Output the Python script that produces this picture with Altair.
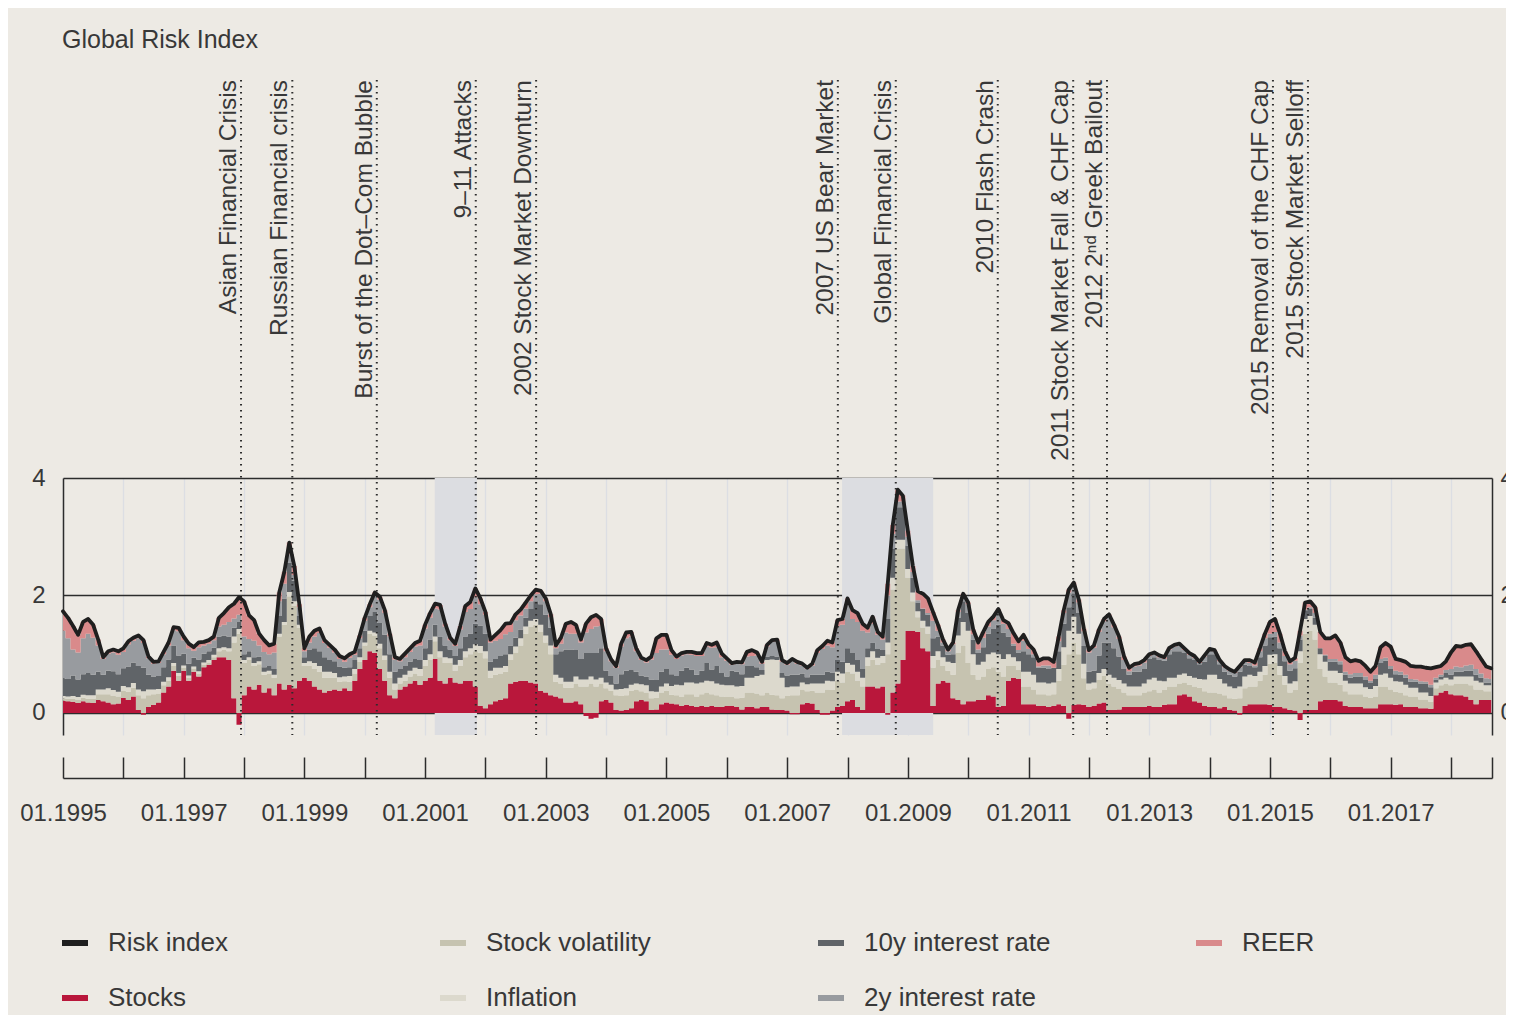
import altair as alt
import pandas as pd

# ---------------- data (monthly, Jan 1995 - Sep 2018) ----------------
start_year = 1995

risk_index = [
    1.73,1.62,1.48,1.33,1.55,1.60,1.50,1.25,0.95,1.05,1.08,1.05,
    1.10,1.22,1.28,1.32,1.24,0.96,0.87,0.88,1.04,1.20,1.46,1.45,
    1.30,1.18,1.12,1.20,1.21,1.24,1.30,1.62,1.70,1.80,1.86,1.97,
    1.90,1.66,1.58,1.35,1.24,1.15,1.18,2.05,2.40,2.90,2.50,1.85,
    1.10,1.30,1.40,1.44,1.24,1.16,1.08,0.97,0.93,1.00,1.04,1.32,
    1.62,1.85,2.05,1.98,1.75,1.35,0.95,0.92,1.01,1.10,1.19,1.23,
    1.50,1.70,1.86,1.84,1.52,1.28,1.18,1.48,1.82,1.89,2.12,1.95,
    1.72,1.25,1.33,1.41,1.52,1.53,1.68,1.76,1.88,2.00,2.10,2.08,
    1.95,1.68,1.15,1.28,1.52,1.55,1.50,1.25,1.52,1.63,1.67,1.60,
    1.10,0.91,0.80,1.18,1.37,1.38,1.10,0.94,0.90,0.96,1.27,1.33,
    1.33,1.07,0.96,1.02,1.04,1.04,1.02,1.02,1.19,1.16,1.20,1.01,
    0.93,0.85,0.87,0.86,1.04,1.07,1.03,0.87,1.16,1.24,1.25,0.90,
    0.85,0.92,0.87,0.84,0.77,0.84,1.07,1.14,1.23,1.20,1.58,1.60,
    1.95,1.75,1.70,1.52,1.45,1.64,1.38,1.30,2.20,3.20,3.80,3.70,
    3.10,2.50,2.07,2.03,1.95,1.72,1.50,1.25,1.08,1.20,1.75,2.03,
    1.88,1.42,1.20,1.38,1.55,1.64,1.77,1.58,1.53,1.36,1.22,1.33,
    1.17,1.08,0.89,0.93,0.93,0.87,1.30,1.75,2.10,2.22,1.93,1.44,
    1.07,1.15,1.42,1.60,1.68,1.50,1.30,0.96,0.77,0.83,0.85,0.90,
    1.00,1.03,0.98,0.95,1.11,1.16,1.18,1.10,1.02,0.97,0.87,0.98,
    1.09,1.07,0.90,0.80,0.74,0.70,0.80,0.90,0.90,0.86,1.10,1.35,
    1.55,1.60,1.35,1.05,0.88,0.94,1.40,1.88,1.90,1.80,1.38,1.27,
    1.27,1.32,1.20,0.95,0.88,0.90,0.88,0.80,0.70,0.80,1.12,1.19,
    1.13,0.92,0.90,0.87,0.80,0.79,0.79,0.77,0.76,0.78,0.80,0.88,
    1.03,1.14,1.13,1.16,1.17,1.05,0.92,0.79,0.76,
]

stocks = [
    0.21,0.20,0.19,0.17,0.20,0.18,0.17,0.22,0.20,0.18,0.15,0.16,
    0.26,0.22,0.28,0.05,-0.03,0.10,0.14,0.18,0.35,0.45,0.72,0.55,
    0.72,0.55,0.70,0.62,0.78,0.82,0.90,0.95,0.95,0.90,0.25,-0.20,
    0.30,0.45,0.40,0.48,0.35,0.42,0.30,0.50,0.40,0.48,0.42,0.55,
    0.60,0.55,0.45,0.40,0.35,0.38,0.40,0.38,0.42,0.38,0.55,0.75,
    0.90,1.05,1.02,0.75,0.55,0.30,0.25,0.40,0.45,0.50,0.55,0.48,
    0.55,0.60,0.92,0.55,0.50,0.60,0.52,0.50,0.55,0.55,0.45,0.12,
    0.08,0.15,0.20,0.22,0.25,0.50,0.53,0.55,0.55,0.52,0.50,0.38,
    0.35,0.30,0.28,0.25,0.18,0.18,0.20,0.15,-0.05,-0.10,-0.08,0.20,
    0.22,0.18,0.05,0.04,0.05,0.08,0.20,0.22,0.20,0.05,0.06,0.15,
    0.18,0.16,0.15,0.12,0.14,0.12,0.10,0.12,0.10,0.12,0.10,0.10,
    0.12,0.12,0.10,0.06,0.10,0.10,0.08,0.10,0.10,0.06,0.05,0.05,
    0.04,-0.02,-0.02,0.15,0.17,0.16,0.05,-0.03,-0.03,0.04,0.10,0.12,
    0.20,0.22,0.10,0.05,0.45,0.45,0.42,0.45,-0.03,0.35,0.50,0.90,
    1.40,1.40,1.38,1.10,1.05,0.12,0.50,0.55,0.52,0.25,0.22,0.15,
    0.20,0.20,0.22,0.22,0.30,0.28,0.10,0.12,0.55,0.60,0.58,0.15,
    0.15,0.15,0.12,0.12,0.10,0.12,0.15,0.12,-0.10,0.14,0.15,0.14,
    0.10,0.12,0.16,0.18,0.05,0.05,0.06,0.10,0.10,0.10,0.10,0.10,
    0.12,0.10,0.10,0.14,0.15,0.15,0.30,0.32,0.28,0.20,0.18,0.12,
    0.10,0.10,0.08,0.10,0.05,0.04,-0.03,0.12,0.15,0.15,0.15,0.15,
    0.14,0.10,0.10,0.08,0.05,0.04,-0.12,0.05,0.05,0.05,0.20,0.22,
    0.22,0.22,0.20,0.12,0.10,0.10,0.10,0.08,0.08,0.08,0.15,0.15,
    0.15,0.14,0.15,0.10,0.10,0.10,0.08,0.08,0.07,0.30,0.35,0.38,
    0.32,0.30,0.30,0.28,0.22,0.15,0.22,0.22,0.22,
]

stock_volatility = [
    0.04,0.04,0.05,0.05,0.06,0.06,0.07,0.10,0.12,0.14,0.14,0.12,
    0.12,0.14,0.15,0.25,0.25,0.20,0.18,0.15,0.12,0.10,0.08,0.08,
    0.05,0.05,0.05,0.05,0.04,0.04,0.05,0.10,0.12,0.15,0.95,1.35,
    0.55,0.45,0.40,0.35,0.30,0.25,0.30,0.80,1.10,1.50,1.40,0.90,
    0.20,0.25,0.30,0.30,0.25,0.22,0.20,0.15,0.12,0.15,0.12,0.12,
    0.25,0.30,0.30,0.35,0.35,0.30,0.15,0.10,0.10,0.12,0.12,0.15,
    0.25,0.30,0.30,0.40,0.35,0.25,0.20,0.30,0.40,0.45,0.60,0.90,
    0.85,0.45,0.45,0.45,0.45,0.40,0.50,0.60,0.80,0.95,1.00,1.00,
    0.85,0.70,0.25,0.25,0.25,0.25,0.30,0.30,0.45,0.50,0.45,0.30,
    0.20,0.20,0.25,0.25,0.25,0.30,0.20,0.15,0.15,0.20,0.20,0.20,
    0.20,0.15,0.15,0.15,0.18,0.20,0.18,0.20,0.25,0.20,0.20,0.18,
    0.15,0.15,0.15,0.20,0.25,0.25,0.25,0.20,0.25,0.25,0.25,0.20,
    0.25,0.30,0.30,0.25,0.20,0.22,0.30,0.35,0.40,0.35,0.45,0.40,
    0.50,0.45,0.45,0.40,0.35,0.45,0.40,0.40,1.00,1.75,2.30,1.90,
    0.90,0.50,0.25,0.35,0.30,0.65,0.40,0.25,0.20,0.40,0.80,1.00,
    0.65,0.45,0.35,0.40,0.45,0.50,0.60,0.50,0.25,0.20,0.15,0.30,
    0.30,0.25,0.20,0.20,0.20,0.20,0.40,0.70,1.00,1.05,0.85,0.45,
    0.30,0.30,0.40,0.45,0.45,0.40,0.35,0.25,0.20,0.20,0.20,0.25,
    0.25,0.30,0.25,0.25,0.30,0.30,0.20,0.20,0.20,0.25,0.25,0.25,
    0.25,0.25,0.25,0.20,0.20,0.20,0.25,0.30,0.30,0.30,0.40,0.50,
    0.70,0.75,0.55,0.40,0.30,0.35,0.85,1.30,1.35,1.20,0.55,0.40,
    0.30,0.30,0.28,0.25,0.22,0.22,0.22,0.20,0.18,0.20,0.30,0.30,
    0.25,0.22,0.20,0.20,0.18,0.18,0.15,0.15,0.12,0.12,0.12,0.12,
    0.15,0.20,0.20,0.22,0.25,0.25,0.18,0.15,0.15,
]

inflation = [
    0.04,0.04,0.05,0.05,0.05,0.06,0.06,0.08,0.08,0.10,0.10,0.08,
    0.08,0.08,0.08,0.10,0.12,0.10,0.08,0.08,0.06,0.06,0.05,0.05,
    0.04,0.04,0.04,0.04,0.04,0.04,0.04,0.05,0.05,0.05,0.10,0.08,
    0.05,0.05,0.05,0.05,0.05,0.05,0.05,0.05,0.05,0.08,0.08,0.05,
    0.05,0.08,0.10,0.10,0.10,0.10,0.08,0.08,0.08,0.10,0.08,0.08,
    0.05,0.05,0.05,0.08,0.08,0.10,0.10,0.10,0.10,0.10,0.10,0.12,
    0.10,0.10,0.08,0.10,0.10,0.08,0.10,0.10,0.10,0.10,0.12,0.12,
    0.12,0.12,0.12,0.10,0.10,0.10,0.10,0.12,0.12,0.10,0.10,0.12,
    0.12,0.15,0.12,0.10,0.10,0.10,0.12,0.12,0.12,0.12,0.12,0.10,
    0.10,0.10,0.10,0.12,0.12,0.10,0.10,0.12,0.12,0.12,0.10,0.10,
    0.12,0.15,0.18,0.20,0.20,0.20,0.22,0.20,0.20,0.22,0.20,0.20,
    0.20,0.20,0.20,0.20,0.25,0.25,0.30,0.35,0.55,0.60,0.60,0.35,
    0.15,0.15,0.15,0.12,0.12,0.12,0.15,0.15,0.15,0.15,0.15,0.15,
    0.15,0.15,0.15,0.15,0.15,0.15,0.12,0.12,0.20,0.20,0.15,0.15,
    0.15,0.15,0.10,0.12,0.12,0.20,0.15,0.15,0.15,0.20,0.30,0.40,
    0.55,0.35,0.25,0.25,0.25,0.25,0.30,0.30,0.20,0.15,0.15,0.25,
    0.25,0.25,0.20,0.20,0.20,0.20,0.20,0.30,0.40,0.45,0.35,0.25,
    0.10,0.10,0.12,0.12,0.15,0.15,0.15,0.15,0.15,0.15,0.15,0.15,
    0.20,0.20,0.20,0.15,0.15,0.15,0.15,0.15,0.15,0.15,0.15,0.20,
    0.30,0.30,0.25,0.20,0.20,0.18,0.20,0.20,0.20,0.18,0.15,0.15,
    0.15,0.15,0.15,0.15,0.15,0.15,0.20,0.25,0.25,0.25,0.25,0.25,
    0.20,0.20,0.20,0.18,0.18,0.18,0.18,0.16,0.15,0.18,0.20,0.22,
    0.20,0.18,0.18,0.18,0.15,0.15,0.12,0.12,0.10,0.10,0.10,0.10,
    0.10,0.12,0.12,0.12,0.15,0.15,0.12,0.10,0.10,
]

rate_10y = [
    0.30,0.30,0.35,0.30,0.35,0.38,0.35,0.30,0.25,0.30,0.32,0.30,
    0.30,0.35,0.35,0.40,0.40,0.25,0.22,0.22,0.25,0.30,0.30,0.30,
    0.20,0.20,0.15,0.20,0.15,0.15,0.12,0.20,0.20,0.20,0.15,0.12,
    0.10,0.10,0.10,0.08,0.08,0.08,0.10,0.30,0.40,0.50,0.35,0.15,
    0.10,0.20,0.25,0.25,0.25,0.20,0.20,0.18,0.15,0.15,0.15,0.15,
    0.20,0.25,0.35,0.35,0.35,0.30,0.20,0.15,0.15,0.15,0.15,0.15,
    0.20,0.25,0.20,0.25,0.20,0.15,0.15,0.20,0.25,0.25,0.35,0.35,
    0.30,0.15,0.15,0.20,0.20,0.15,0.15,0.15,0.15,0.20,0.30,0.35,
    0.35,0.30,0.35,0.45,0.55,0.55,0.45,0.35,0.45,0.40,0.45,0.50,
    0.20,0.15,0.10,0.25,0.30,0.25,0.20,0.15,0.15,0.20,0.20,0.25,
    0.25,0.20,0.15,0.25,0.25,0.22,0.15,0.20,0.30,0.20,0.30,0.20,
    0.15,0.25,0.25,0.20,0.20,0.20,0.15,0.08,0.06,0.06,0.06,0.08,
    0.20,0.20,0.20,0.15,0.12,0.15,0.15,0.15,0.15,0.15,0.20,0.20,
    0.25,0.20,0.20,0.15,0.15,0.15,0.15,0.10,0.40,0.50,0.55,0.55,
    0.40,0.25,0.15,0.20,0.20,0.30,0.25,0.20,0.12,0.15,0.30,0.35,
    0.30,0.25,0.20,0.25,0.35,0.40,0.50,0.45,0.30,0.20,0.15,0.35,
    0.30,0.30,0.25,0.25,0.25,0.25,0.30,0.40,0.40,0.40,0.35,0.30,
    0.20,0.20,0.30,0.45,0.55,0.50,0.40,0.25,0.20,0.25,0.25,0.25,
    0.35,0.35,0.35,0.35,0.40,0.45,0.40,0.35,0.30,0.30,0.25,0.30,
    0.35,0.35,0.25,0.20,0.20,0.20,0.25,0.20,0.15,0.15,0.25,0.35,
    0.30,0.30,0.30,0.25,0.22,0.22,0.20,0.15,0.12,0.12,0.10,0.10,
    0.15,0.15,0.15,0.10,0.10,0.12,0.12,0.12,0.10,0.12,0.20,0.22,
    0.15,0.12,0.12,0.12,0.10,0.10,0.15,0.15,0.15,0.05,0.05,0.08,
    0.08,0.08,0.08,0.10,0.10,0.10,0.08,0.05,0.05,
]

rate_2y = [
    0.81,0.69,0.44,0.46,0.61,0.67,0.63,0.45,0.27,0.29,0.32,0.33,
    0.28,0.38,0.37,0.47,0.42,0.28,0.22,0.22,0.22,0.24,0.26,0.41,
    0.23,0.26,0.12,0.21,0.14,0.13,0.13,0.17,0.18,0.25,0.16,0.12,
    0.30,0.21,0.28,0.19,0.26,0.20,0.28,0.25,0.25,0.14,0.10,0.15,
    0.10,0.12,0.20,0.31,0.24,0.21,0.15,0.13,0.10,0.16,0.09,0.17,
    0.17,0.15,0.28,0.40,0.37,0.30,0.21,0.13,0.15,0.17,0.21,0.25,
    0.34,0.37,0.28,0.46,0.32,0.16,0.17,0.32,0.42,0.42,0.45,0.36,
    0.32,0.33,0.31,0.29,0.34,0.23,0.30,0.24,0.16,0.13,0.12,0.18,
    0.23,0.18,0.10,0.13,0.29,0.27,0.28,0.28,0.35,0.41,0.45,0.38,
    0.33,0.25,0.27,0.47,0.55,0.57,0.35,0.26,0.24,0.34,0.46,0.38,
    0.33,0.33,0.29,0.26,0.23,0.25,0.32,0.25,0.28,0.37,0.32,0.27,
    0.27,0.10,0.14,0.17,0.16,0.17,0.20,0.11,0.17,0.24,0.26,0.19,
    0.18,0.24,0.19,0.14,0.14,0.16,0.37,0.44,0.45,0.43,0.58,0.63,
    0.75,0.58,0.65,0.65,0.27,0.32,0.24,0.18,0.40,0.25,0.10,0.10,
    0.15,0.10,0.04,0.01,0.03,0.30,0.10,0.05,0.06,0.17,0.10,0.10,
    0.15,0.09,0.06,0.16,0.12,0.15,0.21,0.15,0.13,0.03,0.04,0.18,
    0.09,0.05,0.02,0.04,0.06,0.00,0.17,0.18,0.25,0.13,0.18,0.25,
    0.33,0.39,0.40,0.36,0.44,0.36,0.30,0.15,0.06,0.09,0.11,0.11,
    0.05,0.05,0.05,0.03,0.08,0.08,0.10,0.05,0.06,0.04,0.02,0.09,
    0.07,0.05,0.05,0.08,0.07,0.06,0.08,0.05,0.05,0.03,0.10,0.12,
    0.06,0.08,0.10,0.09,0.11,0.13,0.07,0.01,0.03,0.08,0.00,0.02,
    0.05,0.05,0.05,0.05,0.06,0.06,0.06,0.06,0.04,0.07,0.07,0.05,
    0.05,0.06,0.05,0.05,0.05,0.04,0.04,0.03,0.04,0.03,0.03,0.05,
    0.10,0.09,0.08,0.09,0.10,0.10,0.07,0.07,0.06,
]

reer = [
    0.33,0.35,0.40,0.30,0.28,0.25,0.22,0.10,0.03,0.04,0.05,0.06,
    0.06,0.05,0.05,0.05,0.05,0.03,0.03,0.03,0.04,0.05,0.05,0.06,
    0.06,0.08,0.06,0.08,0.06,0.06,0.06,0.15,0.20,0.25,0.25,0.30,
    0.60,0.40,0.35,0.20,0.20,0.15,0.15,0.15,0.20,0.20,0.15,0.05,
    0.05,0.10,0.10,0.08,0.05,0.05,0.05,0.05,0.06,0.06,0.05,0.05,
    0.05,0.05,0.05,0.05,0.05,0.05,0.04,0.04,0.06,0.06,0.06,0.08,
    0.06,0.08,0.08,0.08,0.05,0.04,0.04,0.06,0.10,0.12,0.15,0.10,
    0.05,0.05,0.10,0.15,0.18,0.15,0.10,0.10,0.10,0.10,0.08,0.05,
    0.05,0.05,0.05,0.10,0.15,0.20,0.15,0.05,0.15,0.20,0.20,0.12,
    0.05,0.03,0.03,0.05,0.10,0.08,0.05,0.04,0.04,0.05,0.25,0.25,
    0.25,0.08,0.04,0.04,0.04,0.05,0.05,0.05,0.06,0.05,0.08,0.06,
    0.04,0.03,0.03,0.03,0.08,0.10,0.05,0.03,0.03,0.03,0.03,0.03,
    0.03,0.03,0.03,0.03,0.02,0.03,0.05,0.05,0.08,0.08,0.10,0.10,
    0.10,0.15,0.15,0.12,0.08,0.12,0.05,0.05,0.20,0.15,0.20,0.10,
    0.10,0.10,0.15,0.25,0.25,0.15,0.10,0.05,0.03,0.03,0.03,0.03,
    0.03,0.08,0.12,0.10,0.08,0.06,0.06,0.06,0.10,0.18,0.15,0.10,
    0.08,0.08,0.10,0.12,0.12,0.10,0.08,0.05,0.05,0.05,0.05,0.05,
    0.04,0.04,0.04,0.04,0.04,0.04,0.04,0.06,0.06,0.04,0.04,0.04,
    0.03,0.03,0.03,0.03,0.03,0.03,0.03,0.03,0.03,0.03,0.02,0.02,
    0.02,0.02,0.02,0.02,0.02,0.02,0.02,0.03,0.05,0.05,0.05,0.08,
    0.20,0.22,0.15,0.08,0.05,0.05,0.08,0.12,0.10,0.10,0.28,0.28,
    0.35,0.40,0.32,0.25,0.22,0.22,0.20,0.18,0.15,0.15,0.20,0.25,
    0.33,0.20,0.20,0.22,0.22,0.22,0.25,0.24,0.28,0.18,0.15,0.15,
    0.28,0.35,0.35,0.35,0.35,0.30,0.25,0.20,0.18,
]

components = ["Stocks", "Stock volatility", "Inflation",
              "10y interest rate", "2y interest rate", "REER"]
component_values = [stocks, stock_volatility, inflation, rate_10y, rate_2y, reer]
component_colors = ["#b9173b", "#c6c3b0", "#dcd9cd", "#606468", "#989b9f", "#d98a8b"]
index_name = "Risk index"
index_color = "#1f1f1f"

event_labels = [
    "Asian Financial Crisis", "Russian Financial crisis", "Burst of the Dot\u2013Com Bubble",
    "9\u201311  Attacks", "2002 Stock Market Downturn", "2007 US Bear Market",
    "Global Financial Crisis", "2010 Flash Crash", "2011 Stock Market Fall & CHF Cap",
    "2012 2\u207f\u1d48 Greek Bailout", "2015 Removal of the CHF Cap", "2015 Stock Market Selloff",
]
event_dates = [1997.95, 1998.80, 2000.20, 2001.84, 2002.84, 2007.84,
               2008.80, 2010.49, 2011.74, 2012.30, 2015.05, 2015.63]

recession_start = [2001.16, 2007.91]
recession_end = [2001.86, 2009.42]

year_ticks = list(range(1995, 2019))
x_end = 2018.68
y_levels = [0, 2, 4]
chart_title = "Global Risk Index"

# ---------------- tables ----------------
months = [start_year + k / 12 for k in range(len(risk_index))]
rows = []
for ci, (name, vals) in enumerate(zip(components, component_values)):
    for t, v in zip(months, vals):
        rows.append({"t": t, "component": name, "value": v, "ord": ci})
df_area = pd.DataFrame(rows)
df_line = pd.DataFrame({"t": months, "idx": risk_index, "series": index_name})
df_events = pd.DataFrame({"t": event_dates, "label": event_labels})
df_rec = pd.DataFrame({"start": recession_start, "end": recession_end})
df_title = pd.DataFrame({"label": [chart_title]})

# legend: filled column by column (2 rows x 4 columns)
legend_names = [index_name] + components
legend_colors = [index_color] + component_colors

# ---------------- styling ----------------
FONT = "Liberation Sans"
TXT = "#383838"
DARK = "#2c2c2c"
W, H = 1429, 257
xscale = alt.Scale(domain=[start_year, x_end], nice=False, zero=False)
yscale = alt.Scale(domain=[-0.375, 4], nice=False, zero=False)

rec = alt.Chart(df_rec).mark_rect(color="#dcdde1").encode(
    x=alt.X("start:Q", scale=xscale,
            axis=alt.Axis(orient="bottom", values=year_ticks, grid=True, gridColor="#dcdee3",
                          gridWidth=1.3, domain=False, ticks=False, labels=False, title=None)),
    x2="end:Q",
    y=alt.value(0),
    y2=alt.value(H),
)

area = alt.Chart(df_area).mark_area(interpolate="step").encode(
    x=alt.X("t:Q", scale=xscale,
            axis=alt.Axis(orient="bottom", offset=22, values=year_ticks + [x_end],
                          labelExpr="(datum.value % 2 == 1) ? '01.' + datum.value : ''",
                          tickSize=21, tickWidth=1.5, tickColor=DARK, domain=False, grid=False,
                          labelPadding=23, labelFontSize=24, labelFont=FONT, labelColor=TXT,
                          labelFlush=False, labelOverlap=False, labelBound=False, title=None)),
    y=alt.Y("value:Q", stack="zero", scale=yscale,
            axis=alt.Axis(orient="left", values=y_levels, grid=True, gridColor=DARK, gridWidth=1.5,
                          domain=True, domainColor=DARK, domainWidth=1.5, ticks=False, tickSize=0,
                          labelPadding=18, labelFontSize=24, labelFont=FONT, labelColor=TXT,
                          title=None)),
    fill=alt.Fill("component:N", scale=alt.Scale(domain=components, range=component_colors),
                  legend=None),
    order=alt.Order("ord:Q", sort="ascending"),
)

event_rules = alt.Chart(df_events).mark_rule(
    color=DARK, strokeWidth=2, strokeDash=[1.6, 4.4]
).encode(
    x=alt.X("t:Q", scale=xscale, axis=None),
    y=alt.value(-398),
    y2=alt.value(H),
)

event_text = alt.Chart(df_events).mark_text(
    angle=270, align="right", baseline="alphabetic", dy=-5,
    fontSize=24.5, font=FONT, color=TXT
).encode(
    x=alt.X("t:Q", scale=xscale, axis=None),
    y=alt.value(-398),
    text="label:N",
)

line = alt.Chart(df_line).mark_line(strokeWidth=3.8, strokeJoin="round", strokeCap="round").encode(
    x=alt.X("t:Q", scale=xscale,
            axis=alt.Axis(orient="bottom", offset=43, values=year_ticks, domain=True,
                          domainColor=DARK, domainWidth=1.5, ticks=False, tickSize=0,
                          labels=False, grid=False, title=None)),
    y=alt.Y("idx:Q", scale=yscale,
            axis=alt.Axis(orient="right", values=y_levels, domain=True, domainColor=DARK,
                          domainWidth=1.5, ticks=False, tickSize=0, grid=False, labelPadding=8,
                          labelFontSize=24, labelFont=FONT, labelColor=TXT, title=None)),
    stroke=alt.Stroke("series:N", scale=alt.Scale(domain=legend_names, range=legend_colors),
                      legend=alt.Legend(orient="none", legendX=-4, legendY=449, columns=4,
                                        columnPadding=133, rowPadding=26, symbolType="stroke",
                                        symbolSize=676, symbolStrokeWidth=6, labelFontSize=26,
                                        labelFont=FONT, labelColor=TXT, labelOffset=17,
                                        labelLimit=500, gridAlign="all", padding=0, title=None)),
)

title = alt.Chart(df_title).mark_text(
    align="left", baseline="middle", fontSize=25, font=FONT, color=TXT
).encode(
    x=alt.value(-1),
    y=alt.value(-438),
    text="label:N",
)

chart = alt.layer(rec, area, event_rules, event_text, line, title).resolve_axis(
    x="independent", y="independent"
).properties(
    width=W, height=H,
    autosize=alt.AutoSizeParams(type="none"),
    padding={"left": 55, "top": 470, "right": 14, "bottom": 280},
).configure(
    background="#edeae4", font=FONT
).configure_view(
    stroke="transparent"
)

chart.save("out.html", embed_options={"renderer": "svg", "actions": False})
